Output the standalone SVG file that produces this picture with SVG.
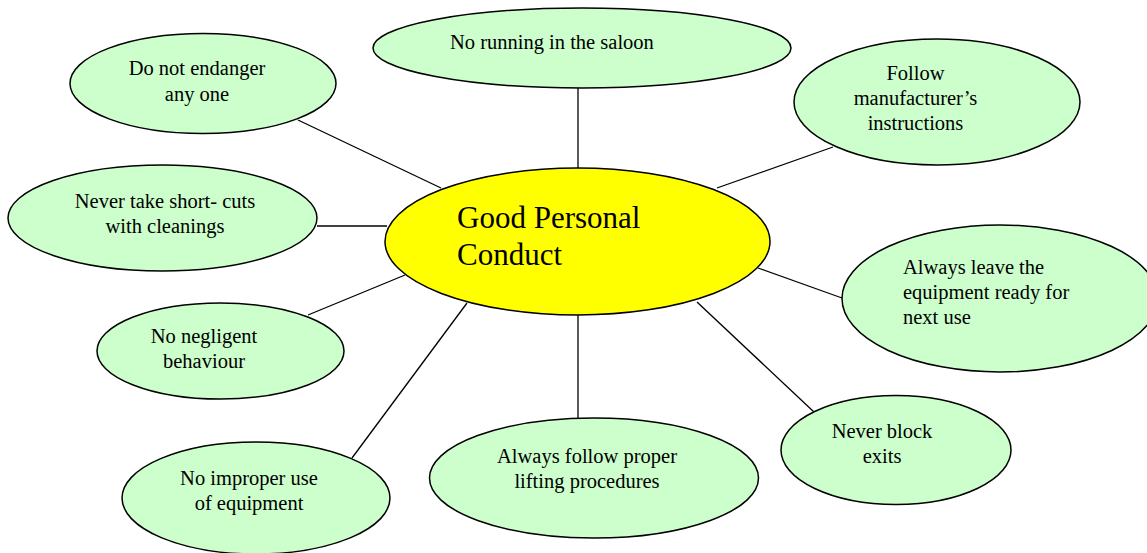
<svg xmlns="http://www.w3.org/2000/svg" width="1147" height="553" viewBox="0 0 1147 553" font-family="Liberation Serif, DejaVu Serif, serif">
<style>
.node{fill:#CCFFCC;stroke:#000;stroke-width:1.5}
.hub{fill:#FFFF00;stroke:#000;stroke-width:1.5}
.t{font-size:20.5px;text-anchor:middle;fill:#000}
.l{text-anchor:start}
.h{font-size:31px;fill:#000}
.c line{stroke:#000;stroke-width:1.3}
</style>
<rect width="1147" height="553" fill="#fff"/>
<g id="connectors" class="c">
<line x1="578" y1="87" x2="578" y2="168"/>
<line x1="298" y1="120" x2="441" y2="188"/>
<line x1="317" y1="226" x2="387" y2="226"/>
<line x1="833" y1="147" x2="717" y2="188"/>
<line x1="758" y1="268" x2="842" y2="298"/>
<line x1="697" y1="302" x2="814" y2="412"/>
<line x1="578" y1="315" x2="578" y2="418"/>
<line x1="467" y1="303" x2="352" y2="458"/>
<line x1="405" y1="275" x2="308" y2="315"/>
</g>
<g id="n-running">
<ellipse class="node" cx="582" cy="48" rx="209" ry="40"/>
<text class="t l" x="450" y="49" font-family="Liberation Serif">No running in the saloon</text>
</g>
<g id="n-endanger">
<ellipse class="node" cx="203" cy="83.5" rx="133" ry="50"/>
<text class="t" x="197" y="75" font-family="Liberation Serif">Do not endanger</text>
<text class="t" x="197" y="101" font-family="Liberation Serif">any one</text>
</g>
<g id="n-shortcuts">
<ellipse class="node" cx="162.5" cy="218" rx="154.5" ry="53"/>
<text class="t" x="165" y="208" font-family="Liberation Serif">Never take short- cuts</text>
<text class="t" x="165" y="233" font-family="Liberation Serif">with cleanings</text>
</g>
<g id="n-follow">
<ellipse class="node" cx="937" cy="102" rx="143" ry="63"/>
<text class="t" x="915.5" y="80" font-family="Liberation Serif">Follow</text>
<text class="t" x="915.5" y="105" font-family="Liberation Serif">manufacturer’s</text>
<text class="t" x="915.5" y="130" font-family="Liberation Serif">instructions</text>
</g>
<g id="n-leave">
<ellipse class="node" cx="1000" cy="298.5" rx="158" ry="73.5"/>
<text class="t l" x="903" y="274" font-family="Liberation Serif">Always leave the</text>
<text class="t l" x="903" y="299" font-family="Liberation Serif">equipment ready for</text>
<text class="t l" x="903" y="324" font-family="Liberation Serif">next use</text>
</g>
<g id="n-negligent">
<ellipse class="node" cx="220.5" cy="351" rx="123.5" ry="48"/>
<text class="t" x="204" y="343" font-family="Liberation Serif">No negligent</text>
<text class="t" x="204" y="368" font-family="Liberation Serif">behaviour</text>
</g>
<g id="n-improper">
<ellipse class="node" cx="256" cy="498" rx="134" ry="56"/>
<text class="t" x="249" y="485" font-family="Liberation Serif">No improper use</text>
<text class="t" x="249" y="510" font-family="Liberation Serif">of equipment</text>
</g>
<g id="n-lifting">
<ellipse class="node" cx="594" cy="478" rx="164.5" ry="60"/>
<text class="t" x="587" y="463" font-family="Liberation Serif">Always follow proper</text>
<text class="t" x="587" y="488" font-family="Liberation Serif">lifting procedures</text>
</g>
<g id="n-exits">
<ellipse class="node" cx="896" cy="450" rx="115" ry="54.5"/>
<text class="t" x="882" y="438" font-family="Liberation Serif">Never block</text>
<text class="t" x="882" y="463" font-family="Liberation Serif">exits</text>
</g>
<g id="hub">
<ellipse class="hub" cx="577.5" cy="241.5" rx="192.5" ry="73.5"/>
<text class="h" x="457" y="228" font-family="Liberation Serif">Good Personal</text>
<text class="h" x="457" y="265" font-family="Liberation Serif">Conduct</text>
</g>
</svg>
